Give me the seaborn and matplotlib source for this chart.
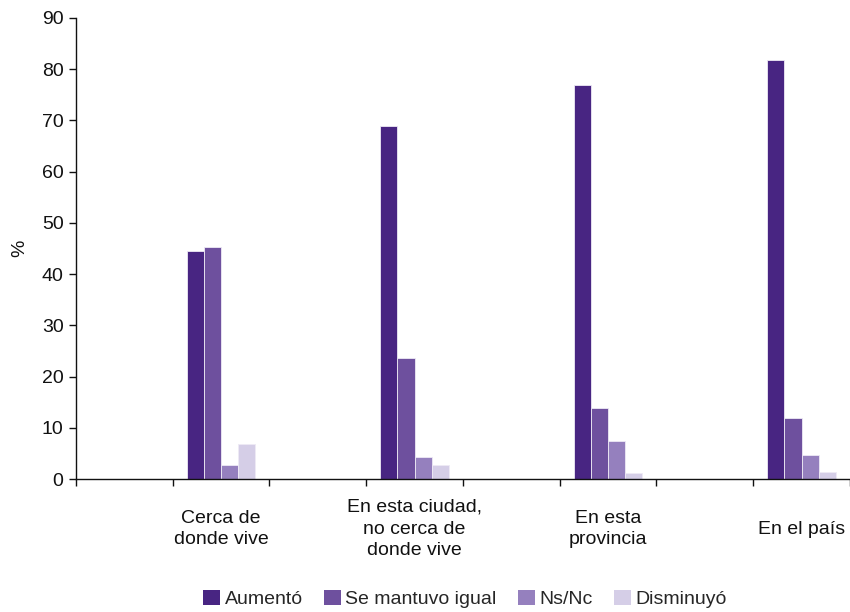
import matplotlib
matplotlib.use("Agg")
import matplotlib.pyplot as plt
import seaborn as sns
import pandas as pd
from matplotlib.patches import Patch

# ── data ─────────────────────────────────────────────────────────────────────
categories = ["Cerca de\ndonde vive",
              "En esta ciudad,\nno cerca de\ndonde vive",
              "En esta\nprovincia",
              "En el país"]
series = ["Aumentó", "Se mantuvo igual", "Ns/Nc", "Disminuyó"]
aumento    = [44.5, 69.0, 77.0, 81.8]
se_mantuvo = [45.3, 23.6, 13.8, 12.0]
ns_nc      = [2.7, 4.2, 7.5, 4.6]
disminuyo  = [6.8, 2.7, 1.2, 1.3]
colors = ["#482582", "#6E509E", "#9580BE", "#D5CEE7"]

values = [aumento, se_mantuvo, ns_nc, disminuyo]
rows = []
for s, vals in zip(series, values):
    for c, v in zip(categories, vals):
        rows.append({"cat": c, "serie": s, "val": v})
df = pd.DataFrame(rows)

# the original chart leaves an empty slot before each category
order = []
for i, c in enumerate(categories):
    order += ["_blank%d" % i, c]

sns.set_style("white")
plt.rcParams["font.family"] = ["Liberation Sans", "DejaVu Sans"]
FS = 14

fig = plt.figure(figsize=(8.5, 6.12), dpi=100)
ax = fig.add_axes([0.0894, 0.2173, 0.9106, 0.7533])

sns.barplot(data=df, x="cat", y="val", hue="serie", order=order,
            hue_order=series, palette=colors, width=0.71, dodge=True,
            saturation=1, edgecolor="#EEEAF5", linewidth=0.6, ax=ax,
            legend=False)

ax.set_xlim(-0.5, len(order) - 0.5)
ax.set_ylim(0, 90)
ax.set_yticks(range(0, 91, 10))
ax.tick_params(axis="y", labelsize=FS, length=5, width=1, direction="out",
               left=True, pad=4, colors="#111111")

# boundary ticks (major), labels on minor ticks at the filled slots
ax.set_xticks([i - 0.5 for i in range(len(order) + 1)])
ax.set_xticklabels([])
ax.tick_params(axis="x", which="major", length=5, width=1, direction="out",
               bottom=True, color="#111111")
ax.set_xticks([2 * i + 1 for i in range(len(categories))], minor=True)
ax.set_xticklabels(categories, minor=True, va="center", ha="center",
                   fontsize=FS, color="#111111", linespacing=1.35)
ax.tick_params(axis="x", which="minor", length=0, pad=36)

ax.set_xlabel("")
ax.set_ylabel("%", fontsize=FS, color="#111111")
ax.yaxis.set_label_coords(-0.062, 0.5)

for side in ["top", "right"]:
    ax.spines[side].set_visible(False)
for side in ["left", "bottom"]:
    ax.spines[side].set_color("#111111")
    ax.spines[side].set_linewidth(1)

handles = [Patch(facecolor=c, edgecolor="none") for c in colors]
fig.legend(handles, series, loc="center", bbox_to_anchor=(0.547, 0.021),
           ncol=4, frameon=False, fontsize=FS, handlelength=0.85,
           handleheight=0.85, handletextpad=0.25, columnspacing=1.1)

fig.savefig("out.png", dpi=100)
